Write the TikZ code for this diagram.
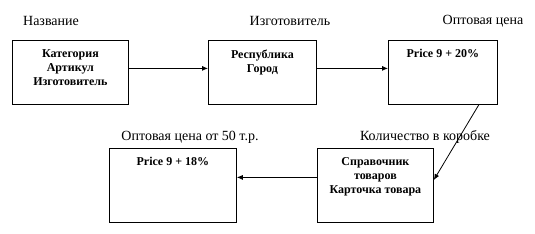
\documentclass[tikz,border=0pt]{standalone}
\usepackage{fontspec}
\setmainfont{Liberation Serif}
\usetikzlibrary{arrows.meta}
\tikzset{
  card/.style={draw, line width=0.8pt, rectangle, minimum width=#1, minimum height=64pt, anchor=north west, inner sep=0pt},
  card/.default=116pt,
  cardtext/.style={anchor=north, yshift=-6pt, align=center, font=\bfseries\fontsize{12}{14}\selectfont},
  caption/.style={font=\fontsize{14}{16}\selectfont},
  arr/.style={-{Latex[length=6pt,width=5pt]}, line width=0.8pt}
}
\begin{document}
\begin{tikzpicture}[x=1pt, y=-1pt]
  \useasboundingbox (0,0) rectangle (535,233);

  % upper row
  \node[card=116pt, label={[cardtext]north:Категория\\Артикул\\Изготовитель}] (kat) at (12,40) {};
  \node[card=108pt, label={[cardtext]north:Республика\\Город}] (resp) at (208,40) {};
  \node[card=109pt, label={[cardtext]north:Price 9 + 20\%}] (opt) at (388,40) {};

  % lower row
  \node[card=127pt, minimum height=74pt, label={[cardtext]north:Price 9 + 18\%}] (opt50) at (109,148) {};
  \node[card=116pt, minimum height=74pt, label={[cardtext]north:Справочник\\товаров\\Карточка товара}] (sprav) at (317,148) {};

  % captions
  \node[caption] (capname) at (51,21) {Название};
  \node[caption] (capmaker) at (290,21) {Изготовитель};
  \node[caption] (capopt) at (483,21) {Оптовая цена};
  \node[caption] (capopt50) at (190,137) {Оптовая цена от 50 т.р.};
  \node[caption] (capbox) at (425,137) {Количество в коробке};

  % arrows
  \draw[arr] ([yshift=4pt]kat.east) -- ([yshift=4pt]resp.west);
  \draw[arr] ([yshift=4pt]resp.east) -- ([yshift=4pt]opt.west);
  \draw[arr] ([xshift=-19pt]opt.south east) -- ([yshift=-32pt]sprav.north east);
  \draw[arr] ([yshift=8pt]sprav.west) -- ([yshift=8pt]opt50.east);
\end{tikzpicture}
\end{document}
